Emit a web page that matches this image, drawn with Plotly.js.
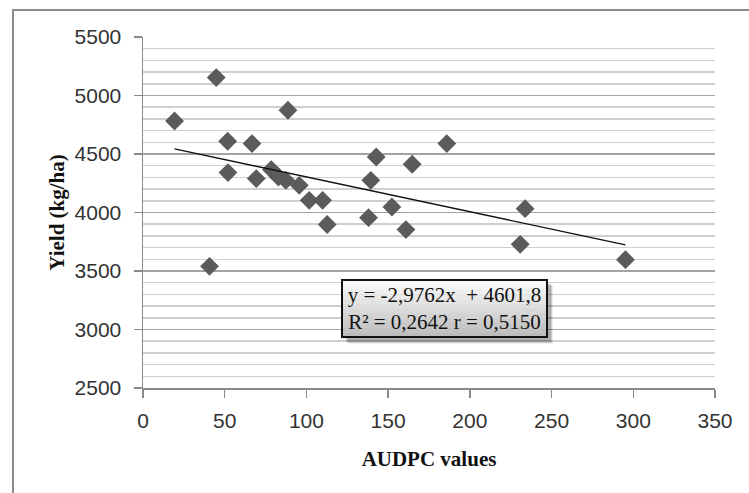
<!DOCTYPE html>
<html>
<head>
<meta charset="utf-8">
<script src="https://cdn.plot.ly/plotly-3.0.1.min.js"></script>
<style>
  html, body { margin: 0; padding: 0; background: #fff; }
  #wrap { position: relative; width: 749px; height: 493px; overflow: hidden; }
  #chart { position: absolute; left: 0; top: 0; width: 749px; height: 493px; }
  #frame { position: absolute; left: 12px; top: 9px; width: 800px; height: 600px;
           border: 2px solid #8a8a8a; pointer-events: none; }
</style>
</head>
<body>
<div id="wrap">
  <div id="chart"></div>
  <div id="frame"></div>
</div>
<script>
// ---- data ----
const audpc = [19.3, 40.7, 44.8, 51.8, 52.0, 66.7, 69.3, 78.5, 82.9, 87.4, 88.7, 95.6, 101.7,
               109.9, 112.7, 138.0, 139.4, 142.7, 152.3, 160.9, 164.7, 185.9, 230.8, 233.8, 295.2];
const yieldKg = [4782, 3540, 5153, 4609, 4341, 4589, 4290, 4367, 4303, 4275, 4874, 4232, 4104,
                 4104, 3897, 3956, 4275, 4474, 4047, 3854, 4412, 4589, 3728, 4033, 3597];
const slope = -2.9762;
const intercept = 4601.8;
const xTickVals = [0, 50, 100, 150, 200, 250, 300, 350];
const yTickVals = [2500, 3000, 3500, 4000, 4500, 5000, 5500];
const xTitle = "AUDPC values";
const yTitle = "Yield (kg/ha)";
const eqText = "y = -2,9762x  + 4601,8<br>R² = 0,2642 r = 0,5150";
const eqAnchorX = 184.5, eqAnchorY = 3177;

const xMin = Math.min(...audpc), xMax = Math.max(...audpc);
const trendX = [xMin, xMax];
const trendY = trendX.map(v => slope * v + intercept);

const traces = [
  { type: 'scatter', mode: 'markers', x: audpc, y: yieldKg,
    marker: { symbol: 'diamond', size: 14.5, color: '#5b5b5b', line: { width: 0 } },
    hoverinfo: 'skip', showlegend: false },
  { type: 'scatter', mode: 'lines', x: trendX, y: trendY,
    line: { color: '#111', width: 1.4 }, hoverinfo: 'skip', showlegend: false }
];

// box decoration: soft shadow + vertical gradient, sized in pixels around the label anchor
const shapes = [];
const hw = 102.5, hh = 29;
[[6, 0.08], [5, 0.12], [4, 0.16]].forEach(([off, a]) => {
  shapes.push({ type: 'rect', xref: 'x', yref: 'y', xsizemode: 'pixel', ysizemode: 'pixel',
    xanchor: eqAnchorX, yanchor: eqAnchorY,
    x0: -hw + off, x1: hw + off, y0: -hh - off, y1: hh - off,
    fillcolor: 'rgba(0,0,0,' + a + ')', line: { width: 0 }, layer: 'above' });
});
const nBands = 12;
for (let i = 0; i < nBands; i++) {
  const t = i / (nBands - 1);
  const c = Math.round(250 - t * 62);
  const yTop = hh - i * (2 * hh / nBands);
  shapes.push({ type: 'rect', xref: 'x', yref: 'y', xsizemode: 'pixel', ysizemode: 'pixel',
    xanchor: eqAnchorX, yanchor: eqAnchorY,
    x0: -hw, x1: hw, y0: yTop - 2 * hh / nBands - 0.5, y1: yTop,
    fillcolor: 'rgb(' + c + ',' + c + ',' + c + ')', line: { width: 0 }, layer: 'above' });
}

const layout = {
  width: 749, height: 493,
  margin: { l: 143, r: 34, t: 37, b: 105, pad: 0 },
  paper_bgcolor: '#ffffff', plot_bgcolor: '#ffffff',
  font: { family: 'Liberation Sans, Arial, sans-serif', size: 21, color: '#333' },
  showlegend: false,
  xaxis: {
    range: [0, 350], tickvals: xTickVals, showgrid: false, zeroline: false,
    showline: true, linecolor: '#8a8a8a', linewidth: 1.5,
    ticks: 'outside', ticklen: 8, tickcolor: '#8a8a8a', tickwidth: 1.5,
    tickfont: { family: 'Liberation Sans, Arial, sans-serif', size: 21, color: '#333' },
    ticklabelstandoff: 5,
    title: { text: xTitle, standoff: 20,
             font: { family: 'Liberation Serif, Times New Roman, serif', size: 21, weight: 700, color: '#111' } },
    automargin: false
  },
  yaxis: {
    range: [2500, 5500], tickvals: yTickVals, zeroline: false,
    showgrid: true, gridcolor: '#a3a3a3', gridwidth: 1.5,
    minor: { dtick: 100, showgrid: true, gridcolor: '#cfcfcf', gridwidth: 1.5, ticks: '' },
    showline: true, linecolor: '#8a8a8a', linewidth: 1.5,
    ticks: 'outside', ticklen: 8, tickcolor: '#8a8a8a', tickwidth: 1.5,
    tickfont: { family: 'Liberation Sans, Arial, sans-serif', size: 21, color: '#333' },
    ticklabelstandoff: 8,
    title: { text: yTitle, standoff: 4,
             font: { family: 'Liberation Serif, Times New Roman, serif', size: 21, weight: 700, color: '#111' } },
    automargin: false
  },
  shapes: shapes,
  annotations: [
    { xref: 'x', yref: 'y', x: eqAnchorX, y: eqAnchorY, xanchor: 'center', yanchor: 'middle',
      text: eqText, showarrow: false, align: 'center',
      font: { family: 'Liberation Serif, Times New Roman, serif', size: 21, color: '#111' },
      bgcolor: 'rgba(0,0,0,0)', bordercolor: '#111', borderwidth: 2, borderpad: 1, width: 201, height: 53 }
  ]
};

Plotly.newPlot('chart', traces, layout, { staticPlot: true, displayModeBar: false });
</script>
</body>
</html>
